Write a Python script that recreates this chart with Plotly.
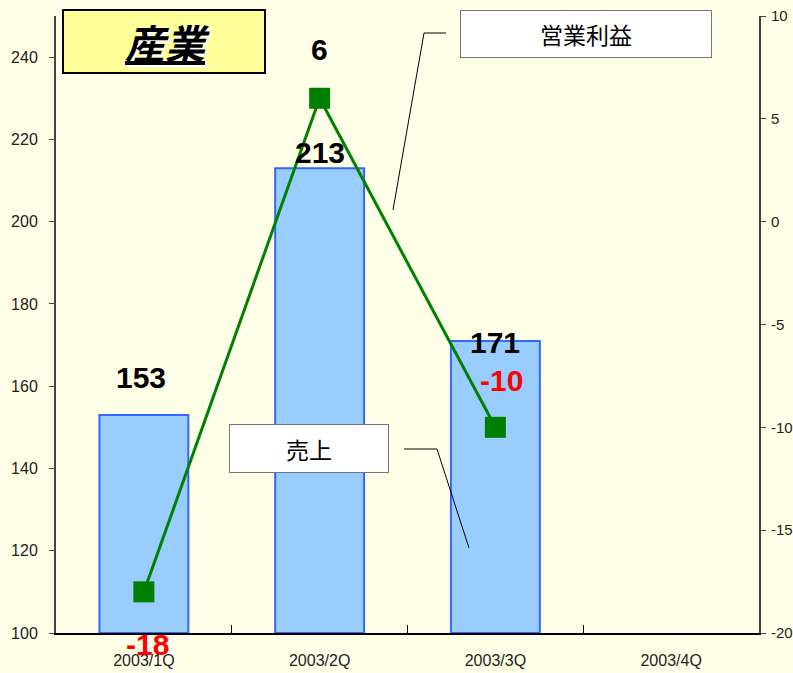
import plotly.graph_objects as go

categories = ["2003/1Q", "2003/2Q", "2003/3Q", "2003/4Q"]
sales = [153, 213, 171, None]
profit = [-18, 6, -10, None]
left_ticks = [100, 120, 140, 160, 180, 200, 220, 240]
right_ticks = [-20, -15, -10, -5, 0, 5, 10]
right_tick_labels = ["-20", "-15", "-10", "-5", "0", "5", "10"]

W, H = 793, 673
L, R, T, B = 56, 34, 16, 40
PW, PH = W - L - R, H - T - B

def px(x):
    return (x - L) / PW

def py(y):
    return (H - B - y) / PH

BG = "#FFFFE8"
NUMFONT = "Liberation Sans, Arial"
TICKFONT = "Liberation Sans, Arial"
JP = "Noto Sans CJK JP"

fig = go.Figure()
fig.add_trace(go.Bar(
    x=categories, y=[v - 100 if v is not None else None for v in sales], base=100,
    marker=dict(color="#99CCFF", line=dict(color="#3366FF", width=2)),
    width=0.506, yaxis="y", hoverinfo="skip",
))
fig.add_trace(go.Scatter(
    x=categories, y=profit, yaxis="y2", mode="lines+markers",
    line=dict(color="#008000", width=3),
    marker=dict(symbol="square", size=21, color="#008000"),
    hoverinfo="skip",
))

ann = []
sales_shift = [37, 16, -2]
sales_xshift = [-3, 0, 0]
for c, v, s, xs in zip(categories, sales, sales_shift, sales_xshift):
    if v is None:
        continue
    ann.append(dict(x=c, y=v, xref="x", yref="y", text=f"<b>{v}</b>", showarrow=False,
                    yshift=s, yanchor="middle", xshift=xs,
                    font=dict(family=NUMFONT, size=30, color="black")))
profit_shift = [-53, 49, 47]
profit_xshift = [4, 0, 6]
profit_color = ["#FF0000", "black", "#FF0000"]
for c, v, s, xs, col in zip(categories, profit, profit_shift, profit_xshift, profit_color):
    if v is None:
        continue
    ann.append(dict(x=c, y=v, xref="x", yref="y2", text=f"<b>{v}</b>", showarrow=False,
                    yshift=s, xshift=xs, yanchor="middle",
                    font=dict(family=NUMFONT, size=30, color=col)))

# title box (shape) with shadowed text
title_shape = dict(type="rect", xref="paper", yref="paper",
                   x0=px(63), x1=px(265), y0=py(73), y1=py(10),
                   fillcolor="#FFFF99", line=dict(color="black", width=2), layer="above")
ann.append(dict(x=px(167), y=py(42), xref="paper", yref="paper", text="<b><i><u>産業</u></i></b>",
                showarrow=False, xanchor="center", yanchor="middle", xshift=2, yshift=-2,
                font=dict(family=JP, size=40, color="white")))
ann.append(dict(x=px(167), y=py(42), xref="paper", yref="paper", text="<b><i><u>産業</u></i></b>",
                showarrow=False, xanchor="center", yanchor="middle",
                font=dict(family=JP, size=40, color="black")))
# legend labels
ann.append(dict(x=px(586), y=py(34), xref="paper", yref="paper", text="営業利益",
                showarrow=False, bgcolor="white", bordercolor="#777777", borderwidth=1,
                width=248, height=44, xanchor="center", yanchor="middle",
                font=dict(family=JP, size=23, color="black")))
ann.append(dict(x=px(309), y=py(449), xref="paper", yref="paper", text="売上",
                showarrow=False, bgcolor="white", bordercolor="#777777", borderwidth=1,
                width=156, height=45, xanchor="center", yanchor="middle",
                font=dict(family=JP, size=23, color="black")))

shapes = [
    title_shape,
    dict(type="path", xref="paper", yref="paper",
         path=f"M {px(446)} {py(33)} L {px(424)} {py(33)} L {px(393)} {py(210)}",
         line=dict(color="black", width=1)),
    dict(type="path", xref="paper", yref="paper",
         path=f"M {px(404)} {py(449)} L {px(437)} {py(449)} L {px(469)} {py(548)}",
         line=dict(color="black", width=1)),
]

fig.update_layout(
    width=W, height=H, autosize=False,
    margin=dict(l=L, r=R, t=T, b=B, autoexpand=False),
    paper_bgcolor=BG, plot_bgcolor=BG,
    showlegend=False,
    annotations=ann, shapes=shapes,
    xaxis=dict(type="category", categoryorder="array", categoryarray=categories,
               range=[-0.5, 3.5], showgrid=False, showline=True, linecolor="black", linewidth=2,
               ticks="inside", ticklen=8, tickcolor="black", tickson="boundaries",
               ticklabelstandoff=12, automargin=False,
               tickfont=dict(family=TICKFONT, size=16, color="#222222")),
    yaxis=dict(range=[100, 250], tickvals=left_ticks, showgrid=False, zeroline=False,
               showline=True, linecolor="#444444", linewidth=2, ticks="outside", ticklen=5,
               tickcolor="#444444", ticklabelstandoff=8, automargin=False,
               tickfont=dict(family=TICKFONT, size=16, color="#222222")),
    yaxis2=dict(range=[-20, 10], tickvals=right_ticks, ticktext=right_tick_labels,
                overlaying="y", side="right", automargin=False,
                showgrid=False, zeroline=False, showline=True, linecolor="#444444", linewidth=2,
                ticks="outside", ticklen=5, tickcolor="#444444", ticklabelstandoff=2,
                tickfont=dict(family=TICKFONT, size=15, color="#222222")),
)

fig.write_html("out.html", config={"displayModeBar": False},
               post_script="document.body.style.margin='0';document.body.style.background='#FFFFE8';document.body.style.overflow='hidden';")
